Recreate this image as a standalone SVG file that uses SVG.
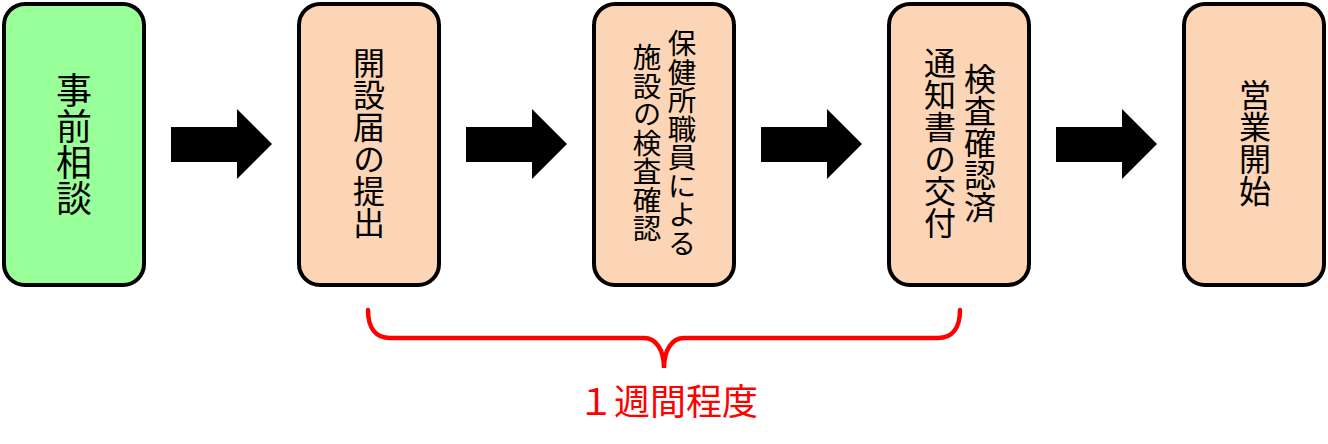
<svg xmlns="http://www.w3.org/2000/svg" width="1328" height="444" viewBox="0 0 1328 444">
<style>
.box{stroke:#000;stroke-width:4}
.green{fill:#99FF99}
.peach{fill:#FBD5B5}
.vt{font-family:"Noto Sans CJK JP","Noto Sans CJK SC",sans-serif;writing-mode:vertical-rl;text-anchor:middle;dominant-baseline:central;fill:#000}
.arrow{fill:#000}
.brace{fill:none;stroke:#FF0000;stroke-width:4.5;stroke-linecap:round}
.lbl{font-family:"Noto Sans CJK JP","Noto Sans CJK SC",sans-serif;fill:#FF0000;font-size:36px;text-anchor:middle}
</style>
<rect width="1328" height="444" fill="#fff"/>
<g id="node1">
<rect class="box green" x="4" y="4" width="140" height="281" rx="21"/>
<text class="vt" x="74" y="144" font-size="36">事前相談</text>
</g>
<g id="node2">
<rect class="box peach" x="299" y="4" width="140" height="281" rx="21"/>
<text class="vt" x="369" y="143" font-size="32">開設届の提出</text>
</g>
<g id="node3">
<rect class="box peach" x="594" y="4" width="140" height="281" rx="21"/>
<text class="vt" x="682" y="143" font-size="28.5">保健所職員による</text>
<text class="vt" x="647" y="143" font-size="28.5">施設の検査確認</text>
</g>
<g id="node4">
<rect class="box peach" x="889" y="4" width="140" height="281" rx="21"/>
<text class="vt" x="980" y="143" font-size="32">検査確認済</text>
<text class="vt" x="940" y="143" font-size="32">通知書の交付</text>
</g>
<g id="node5">
<rect class="box peach" x="1184" y="4" width="140" height="281" rx="21"/>
<text class="vt" x="1255" y="143" font-size="32">営業開始</text>
</g>
<g id="connectors">
<polygon class="arrow" points="171,127 237,127 237,109 272,144 237,179 237,162 171,162"/>
<polygon class="arrow" points="466,127 532,127 532,109 567,144 532,179 532,162 466,162"/>
<polygon class="arrow" points="761,127 827,127 827,109 862,144 827,179 827,162 761,162"/>
<polygon class="arrow" points="1056,127 1122,127 1122,109 1157,144 1122,179 1122,162 1056,162"/>
</g>
<g id="brace">
<path class="brace" d="M368,310 C368,328 376,338 390,338 L644,338 C656,338 664,350 664,368 C664,350 672,338 684,338 L938,338 C952,338 960,328 960,310"/>
<text class="lbl" x="668" y="415">１週間程度</text>
</g>
</svg>
